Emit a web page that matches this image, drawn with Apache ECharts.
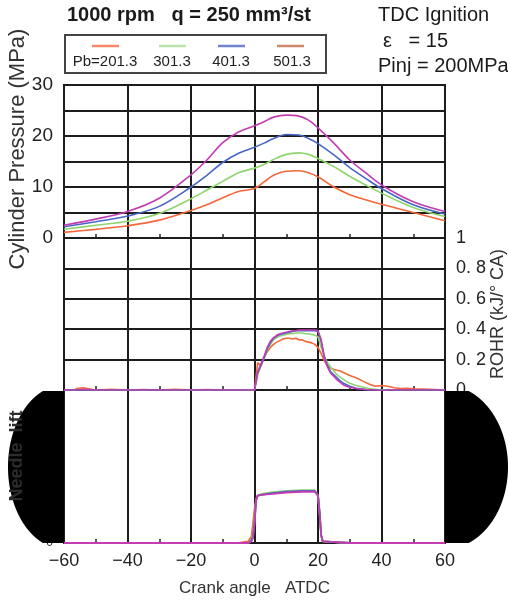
<!DOCTYPE html>
<html><head><meta charset="utf-8">
<script src="https://cdn.jsdelivr.net/npm/echarts@6/dist/echarts.min.js"></script>
<style>html,body{margin:0;padding:0;background:#fff}#c{width:508px;height:600px}</style>
</head><body><div id="c"></div>
<script>
// ---------- data ----------
const seriesNames = ['Pb=201.3', '301.3', '401.3', '501.3'];
const legendLabels = ['Pb=201.3', '301.3', '401.3', '501.3'];
const lineColors = ['#f2683a', '#8fd56f', '#4866c6', '#c23db3'];
const legendColors = ['#f4886c', '#b9e3a8', '#6f83cf', '#cc8a6b'];

const pressureAngles = [-60, -50, -40, -30, -20, -15, -10, -5, 0, 3, 6, 10, 14, 17, 20, 25, 30, 35, 40, 50, 60];
const pressure201 = [1.1, 1.7, 2.4, 3.5, 5.4, 6.5, 7.9, 9.1, 9.7, 11.0, 12.3, 13.1, 13.2, 12.8, 12.0, 10.0, 8.5, 7.5, 6.6, 5.0, 3.4];
const pressure301 = [1.7, 2.5, 3.3, 4.8, 7.7, 9.4, 11.1, 12.8, 13.7, 14.4, 15.4, 16.4, 16.7, 16.4, 15.6, 14.0, 12.1, 10.4, 8.8, 6.0, 4.2];
const pressure401 = [2.2, 3.2, 4.3, 6.2, 10.0, 12.3, 14.8, 16.6, 17.8, 18.6, 19.5, 20.3, 20.2, 19.5, 18.5, 16.3, 13.8, 11.7, 9.7, 6.5, 4.7];
const pressure501 = [2.5, 3.7, 5.2, 7.8, 12.4, 15.3, 18.7, 20.8, 22.0, 22.8, 23.7, 24.1, 23.9, 23.1, 21.6, 18.6, 15.3, 12.8, 10.4, 7.1, 5.2];

const rohrAngles = [-60, -58, -56, -54, -50, -45, -40, -35, -30, -25, -20, -15, -10, -5, -2, -1,
  0, 1, 2, 3, 4, 5, 6, 7, 8, 9, 10, 11, 12, 13, 14, 15, 16, 17, 18, 19, 20, 21, 22, 23, 24, 25, 26, 27, 28, 29, 30,
  32, 34, 36, 38, 40, 42, 44, 46, 48, 50, 55, 60];
const rohr201 = [0, -0.02, 0.01, 0.015, 0, 0.005, 0, 0.003, 0, 0.004, 0, 0.003, 0, 0.002, 0, 0,
  0, 0.18, 0.16, 0.21, 0.25, 0.28, 0.30, 0.315, 0.325, 0.335, 0.34, 0.34, 0.335, 0.34, 0.33, 0.33, 0.32, 0.315, 0.31, 0.30, 0.28, 0.24, 0.19, 0.16, 0.145, 0.135, 0.13, 0.125, 0.115, 0.105, 0.095,
  0.08, 0.06, 0.04, 0.025, 0.03, 0.025, 0.015, 0.01, 0.012, 0.008, 0.005, 0];
const rohr301 = [0, 0, 0.003, 0, 0, 0, 0.002, 0, 0, 0, 0.002, 0, 0, 0, 0, 0,
  0, 0.10, 0.16, 0.21, 0.26, 0.30, 0.33, 0.345, 0.355, 0.36, 0.365, 0.37, 0.37, 0.375, 0.375, 0.375, 0.37, 0.37, 0.365, 0.36, 0.35, 0.28, 0.22, 0.18, 0.15, 0.125, 0.10, 0.085, 0.07, 0.055, 0.045,
  0.03, 0.02, 0.01, 0.005, 0, 0.003, 0, 0.002, 0, 0, 0, 0];
const rohr401 = [0, 0, 0, 0, 0.002, 0, 0, 0, 0.002, 0, 0, 0, 0, 0, 0, 0,
  0, 0.11, 0.16, 0.21, 0.27, 0.31, 0.34, 0.355, 0.365, 0.37, 0.375, 0.38, 0.385, 0.39, 0.39, 0.39, 0.39, 0.39, 0.39, 0.39, 0.385, 0.32, 0.22, 0.16, 0.12, 0.10, 0.08, 0.06, 0.045, 0.035, 0.025,
  0.012, 0.006, 0, 0, -0.003, 0, 0, 0, 0, 0, 0, 0];
const rohr501 = [0, 0, 0, 0.004, 0, 0, 0, 0, 0, 0, 0, 0, 0, 0, 0, 0,
  0, 0.12, 0.17, 0.22, 0.28, 0.32, 0.345, 0.36, 0.37, 0.375, 0.38, 0.385, 0.39, 0.39, 0.395, 0.395, 0.395, 0.395, 0.395, 0.395, 0.39, 0.33, 0.21, 0.15, 0.11, 0.09, 0.066, 0.05, 0.033, 0.025, 0.018,
  0.01, 0.005, 0, 0, -0.004, 0, 0, 0, 0, 0, 0, 0];

const needleAngles = [-60, -40, -20, -5, -2, -1, -0.5, 0, 0.5, 1, 2, 5, 10, 15, 19, 19.5, 20, 20.5, 21, 21.5, 22, 30, 40, 60];
const needle201 = [0, 0, 0, 0, 0.01, 0.04, 0.12, 0.22, 0.29, 0.31, 0.315, 0.325, 0.335, 0.34, 0.34, 0.33, 0.31, 0.2, 0.05, 0.01, 0, 0, 0, 0];
const needle301 = [0, 0, 0, 0, 0, 0.02, 0.06, 0.15, 0.28, 0.31, 0.32, 0.33, 0.34, 0.345, 0.345, 0.335, 0.31, 0.2, 0.05, 0.01, 0, 0, 0, 0];
const needle401 = [0, 0, 0, 0, 0, 0.015, 0.04, 0.13, 0.28, 0.31, 0.315, 0.325, 0.335, 0.34, 0.34, 0.33, 0.31, 0.2, 0.05, 0.01, 0, 0, 0, 0];
const needle501 = [0, 0, 0, 0, 0, 0.01, 0.03, 0.12, 0.28, 0.31, 0.315, 0.32, 0.33, 0.335, 0.335, 0.33, 0.31, 0.2, 0.05, 0.01, 0, 0, 0, 0];

const xTickLabels = ['-60', '-40', '-20', '0', '20', '40', '60'];
const pressureTickLabels = ['0', '10', '20', '30'];
const rohrTickLabels = ['0', '0. 2', '0. 4', '0. 6', '0. 8', '1'];

// ---------- build ----------
const pressureSets = [pressure201, pressure301, pressure401, pressure501];
const rohrSets = [rohr201, rohr301, rohr401, rohr501];
const needleSets = [needle201, needle301, needle401, needle501];
const zip = (xs, ys) => xs.map((x, i) => [x, ys[i]]);

const FONT = 'Liberation Sans, Arial, sans-serif';
const GRID_COLOR = '#1c1c1c';
const L = 64, W = 381;
const grids = [
  { left: L, top: 85, width: W, height: 153 },
  { left: L, top: 238, width: W, height: 152 },
  { left: L, top: 390, width: W, height: 153 }
].map(g => Object.assign(g, { show: true, borderColor: GRID_COLOR, borderWidth: 2, backgroundColor: 'transparent', containLabel: false, outerBoundsMode: 'none' }));

function xAxisFor(i) {
  return {
    type: 'value', gridIndex: i, min: -60, max: 60, interval: 20,
    axisLine: { show: false },
    axisTick: { show: false, inside: true },
    minorTick: { show: true, splitNumber: 2, length: 4, lineStyle: { color: '#222', width: 1.5 } },
    splitLine: { show: true, lineStyle: { color: GRID_COLOR, width: 2 } },
    axisLabel: i === 2 ? {
      show: true, margin: 9, fontSize: 18, color: '#222', fontFamily: FONT,
      formatter: v => { const k = Math.round((v + 60) / 20); return (xTickLabels[k] || '').replace('-', '\u2212'); }
    } : { show: false },
    name: i === 2 ? 'Crank angle   ATDC' : '',
    nameLocation: 'middle', nameGap: 37, nameMoveOverlap: false,
    nameTextStyle: { fontSize: 17, color: '#333', fontFamily: FONT }
  };
}

const series = [];
for (let s = 0; s < 4; s++) {
  series.push({ name: seriesNames[s], type: 'line', xAxisIndex: 0, yAxisIndex: 0, data: zip(pressureAngles, pressureSets[s]),
    smooth: 0.35, symbol: 'none', lineStyle: { color: lineColors[s], width: 1.6 }, z: 3 + s });
}
for (let s = 0; s < 4; s++) {
  series.push({ name: seriesNames[s], type: 'line', xAxisIndex: 1, yAxisIndex: 1, data: zip(rohrAngles, rohrSets[s]),
    symbol: 'none', lineStyle: { color: lineColors[s], width: 1.6 }, z: 3 + s });
}
for (let s = 0; s < 4; s++) {
  series.push({ name: seriesNames[s], type: 'line', xAxisIndex: 2, yAxisIndex: 2, data: zip(needleAngles, needleSets[s]),
    symbol: 'none', lineStyle: { color: lineColors[s], width: 1.8 }, z: 3 + s });
}

// black side shapes (decoration)
function halfEllipse(cx, cy, rx, ry, dir, y0, y1, xClip) {
  const pts = [[cx, y0]];
  for (let y = y0; y <= y1; y += 1) {
    const d = (y - cy) / ry;
    let x = cx + dir * rx * Math.sqrt(Math.max(0, 1 - d * d));
    if (xClip !== undefined) x = Math.min(x, xClip);
    pts.push([x, y]);
  }
  pts.push([cx, y1]);
  return pts;
}

const legendLineX = [92, 159, 218, 277];
const legendTextX = [105, 172, 231, 292];
const graphic = [
  { type: 'rect', shape: { x: 65, y: 35, width: 261, height: 38 }, style: { fill: 'none', stroke: '#444', lineWidth: 2 }, z: 10 }
];
for (let s = 0; s < 4; s++) {
  graphic.push({ type: 'line', shape: { x1: legendLineX[s], y1: 46, x2: legendLineX[s] + 27, y2: 46 }, style: { stroke: legendColors[s], lineWidth: 2.5 }, z: 10 });
  graphic.push({ type: 'text', x: legendTextX[s], y: 62, style: { text: legendLabels[s], fill: '#222', font: '15px ' + FONT, textAlign: 'center', textVerticalAlign: 'middle' }, z: 10 });
}
graphic.push({ type: 'polygon', shape: { points: halfEllipse(64, 467, 56, 82, -1, 391, 543) }, style: { fill: '#000' }, z: 100 });
graphic.push({ type: 'polygon', shape: { points: halfEllipse(445, 467, 63, 82, 1, 391, 543, 508) }, style: { fill: '#000' }, z: 100 });
graphic.push({ type: 'text', x: 17, y: 456, rotation: Math.PI / 2, style: { text: 'Needle  lift', fill: '#2c2c2c', font: 'bold 18px ' + FONT, textAlign: 'center', textVerticalAlign: 'middle' }, z: 101 });

const titleStyle = { fontSize: 20, fontWeight: 'normal', color: '#1a1a1a', fontFamily: FONT };
const option = {
  animation: false,
  backgroundColor: '#fff',
  title: [
    { text: '1000 rpm   q = 250 mm\u00b3/st', left: 67, top: 5, padding: 0, textStyle: { fontSize: 20, fontWeight: 'bold', color: '#1a1a1a', fontFamily: FONT } },
    { text: 'TDC Ignition', left: 378, top: 5, padding: 0, textStyle: titleStyle },
    { text: '\u03b5   = 15', left: 383, top: 31, padding: 0, textStyle: titleStyle },
    { text: 'Pinj = 200MPa', left: 378, top: 56, padding: 0, textStyle: titleStyle }
  ],
  grid: grids,
  xAxis: [xAxisFor(0), xAxisFor(1), xAxisFor(2)],
  yAxis: [
    { type: 'value', gridIndex: 0, min: 0, max: 30, interval: 5, position: 'left',
      axisLine: { show: false }, axisTick: { show: false },
      splitLine: { show: true, lineStyle: { color: GRID_COLOR, width: 2 } },
      axisLabel: { margin: 11, fontSize: 19, color: '#222', fontFamily: FONT,
        formatter: v => (v % 10 === 0 ? pressureTickLabels[v / 10] : '') },
      name: 'Cylinder Pressure (MPa)', nameLocation: 'middle', nameGap: 35, nameRotate: 90, nameMoveOverlap: false,
      nameTextStyle: { fontSize: 22, color: '#333', fontFamily: FONT, padding: [0, 0, 0, 25] } },
    { type: 'value', gridIndex: 1, min: 0, max: 1, interval: 0.2, position: 'right',
      axisLine: { show: false }, axisTick: { show: false },
      splitLine: { show: true, lineStyle: { color: GRID_COLOR, width: 2 } },
      axisLabel: { margin: 11, fontSize: 18, color: '#222', fontFamily: FONT,
        formatter: v => rohrTickLabels[Math.round(v * 5)] || '' },
      name: 'ROHR (kJ/\u00b0 CA)', nameLocation: 'middle', nameGap: 44, nameRotate: 90, nameMoveOverlap: false,
      nameTextStyle: { fontSize: 18, color: '#333', fontFamily: FONT } },
    { type: 'value', gridIndex: 2, min: 0, max: 1, interval: 1, position: 'left',
      axisLine: { show: false }, axisTick: { show: false },
      splitLine: { show: false },
      axisLabel: { margin: 11, fontSize: 12, color: '#222', fontFamily: FONT, formatter: v => (v === 0 ? '0' : '') } }
  ],
  series: series,
  graphic: graphic
};
const chart = echarts.init(document.getElementById('c'), null, { renderer: 'canvas' });
chart.setOption(option);
</script>
</body></html>
